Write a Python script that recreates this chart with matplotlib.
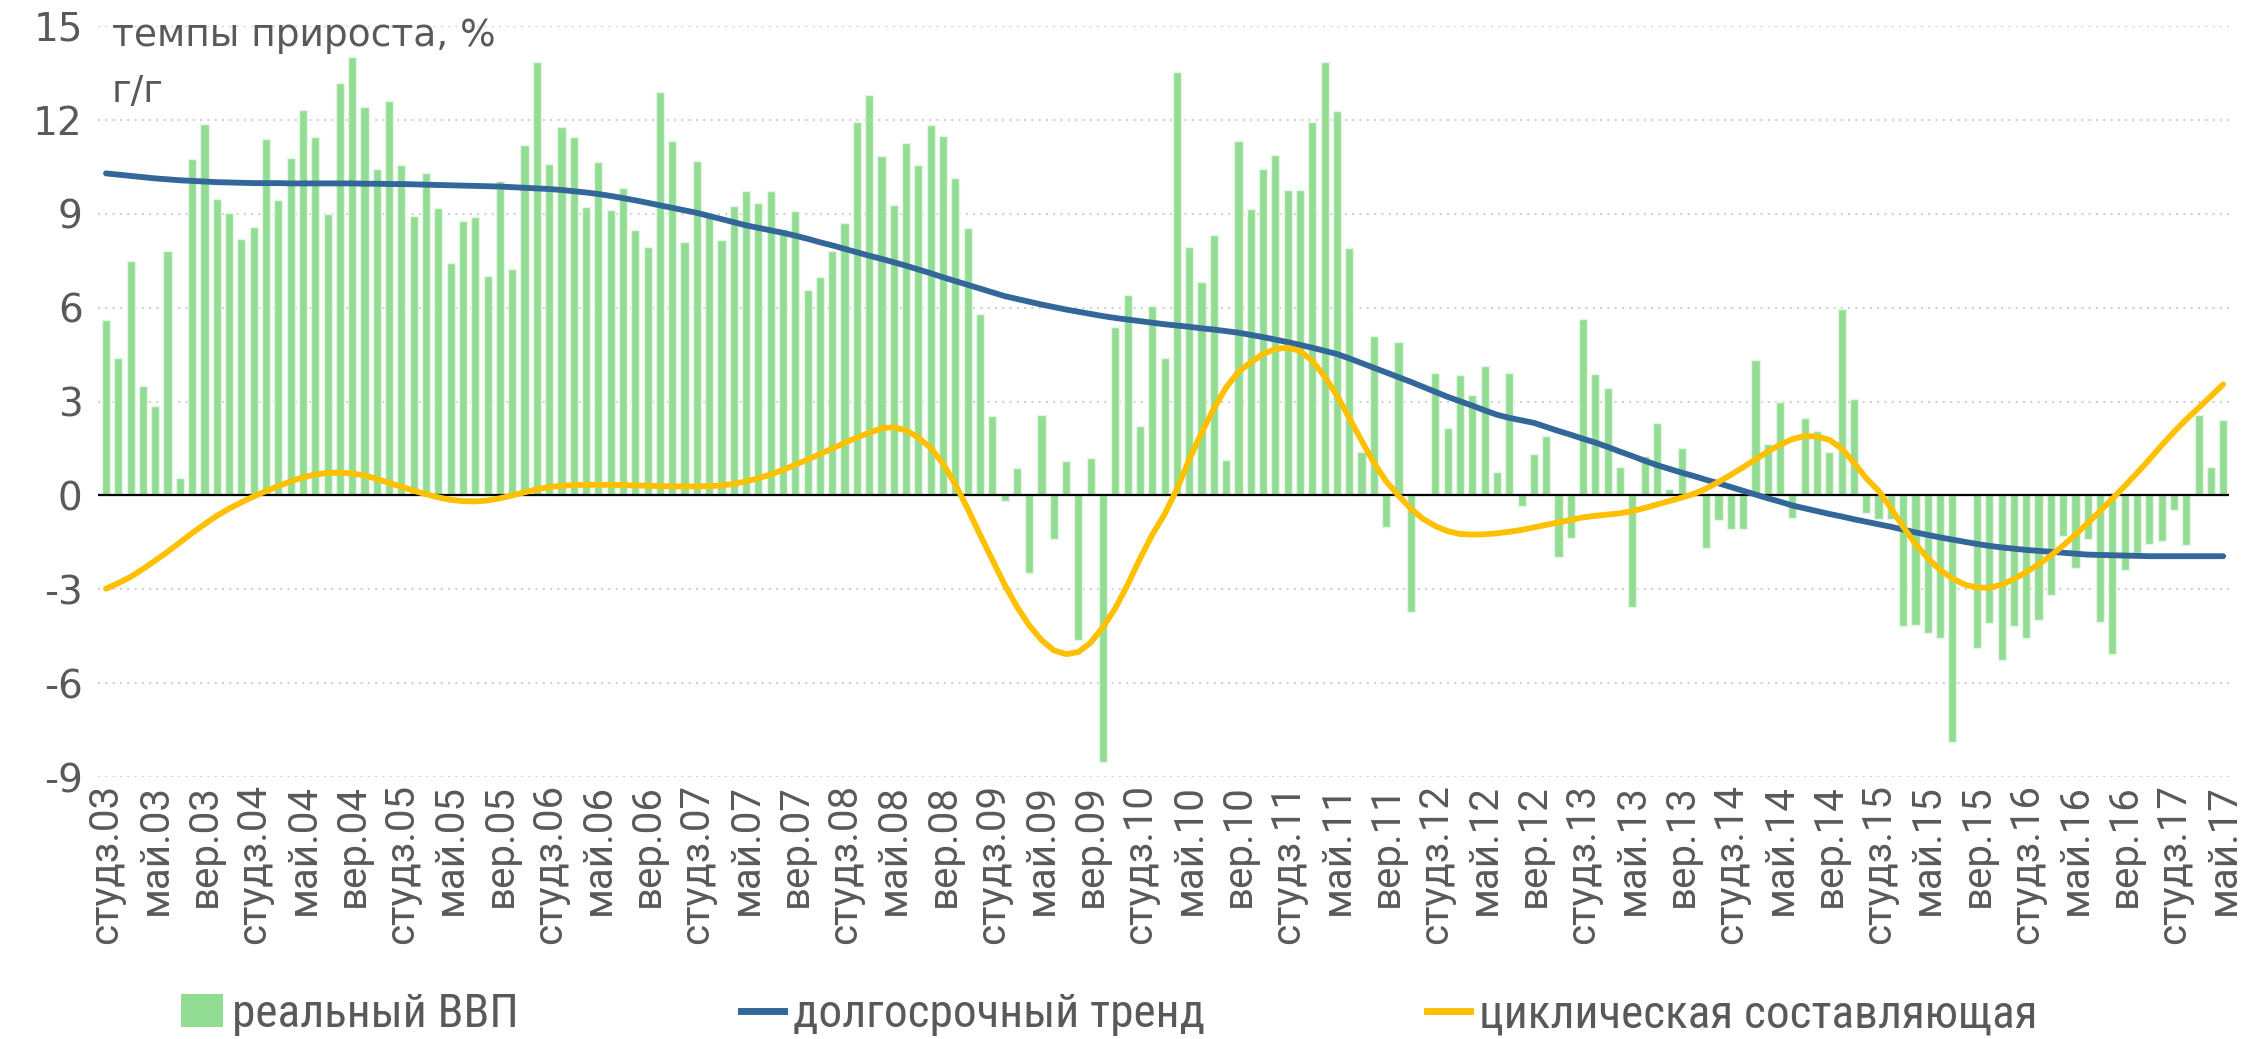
import numpy as np
import pandas as pd
import matplotlib
matplotlib.use("Agg")
from matplotlib import pyplot as plt
from matplotlib.patches import Patch
from matplotlib.lines import Line2D

plt.rcParams["axes.unicode_minus"] = False

# monthly data, Jan 2003 - May 2017
months = pd.date_range("2003-01-01", "2017-05-01", freq="MS")
month_names = {1: "студз", 5: "май", 9: "вер"}

gdp = [5.60, 4.39, 7.50, 3.50, 2.87, 7.82, 0.56, 10.76, 11.87, 9.48,
       9.03, 8.18, 8.58, 11.40, 9.44, 10.79, 12.31, 11.45, 9.00, 13.19,
       14.02, 12.40, 10.42, 12.60, 10.55, 8.94, 10.29, 9.19, 7.44, 8.76,
       8.89, 7.00, 10.05, 7.23, 11.21, 13.84, 10.58, 11.76, 11.44, 9.21,
       10.65, 9.11, 9.82, 8.47, 7.94, 12.89, 11.34, 8.10, 10.68, 8.92,
       8.15, 9.24, 9.73, 9.34, 9.74, 8.52, 9.08, 6.56, 6.98, 7.82,
       8.71, 11.94, 12.81, 10.85, 9.27, 11.27, 10.55, 11.85, 11.48, 10.13,
       8.55, 5.81, 2.53, -0.19, 0.87, -2.47, 2.56, -1.39, 1.10, -4.63,
       1.19, -8.53, 5.39, 6.42, 2.23, 6.06, 4.40, 13.52, 7.95, 6.82,
       8.32, 1.13, 11.34, 9.15, 10.42, 10.89, 9.76, 9.76, 11.94, 13.84,
       12.27, 7.92, 1.40, 5.08, -1.02, 4.90, -3.71, 0.05, 3.92, 2.15,
       3.84, 3.21, 4.13, 0.74, 3.92, -0.35, 1.34, 1.89, -1.97, -1.35,
       5.65, 3.87, 3.42, 0.90, -3.55, 1.27, 2.31, 0.21, 1.53, 0.00,
       -1.69, -0.77, -1.06, -1.06, 4.32, 1.63, 3.00, -0.73, 2.47, 2.06,
       1.40, 5.95, 3.08, -0.56, -0.76, -0.76, -4.16, -4.15, -4.39, -4.56,
       -7.89, 0.00, -4.87, -4.08, -5.27, -4.18, -4.55, -3.97, -3.19, -1.31,
       -2.32, -1.39, -4.05, -5.05, -2.37, -1.85, -1.56, -1.45, -0.45, -1.58,
       2.56, 0.90, 2.40]

trend = [10.29, 10.25, 10.21, 10.17, 10.13, 10.10, 10.07, 10.05, 10.03, 10.01,
         10.00, 9.99, 9.98, 9.98, 9.98, 9.97, 9.97, 9.97, 9.97, 9.97,
         9.97, 9.96, 9.96, 9.95, 9.95, 9.94, 9.93, 9.92, 9.91, 9.90,
         9.89, 9.88, 9.87, 9.85, 9.83, 9.81, 9.79, 9.76, 9.72, 9.68,
         9.63, 9.57, 9.50, 9.43, 9.35, 9.27, 9.19, 9.11, 9.03, 8.93,
         8.83, 8.73, 8.63, 8.55, 8.47, 8.39, 8.30, 8.20, 8.09, 7.99,
         7.88, 7.77, 7.66, 7.56, 7.45, 7.34, 7.22, 7.10, 6.97, 6.85,
         6.73, 6.61, 6.49, 6.37, 6.28, 6.19, 6.10, 6.02, 5.94, 5.87,
         5.80, 5.73, 5.67, 5.62, 5.57, 5.52, 5.47, 5.43, 5.39, 5.34,
         5.30, 5.25, 5.20, 5.13, 5.06, 4.98, 4.90, 4.81, 4.72, 4.62,
         4.52, 4.38, 4.23, 4.08, 3.93, 3.78, 3.63, 3.47, 3.31, 3.15,
         3.01, 2.87, 2.72, 2.58, 2.48, 2.40, 2.32, 2.19, 2.06, 1.94,
         1.81, 1.69, 1.55, 1.40, 1.26, 1.11, 0.97, 0.85, 0.73, 0.62,
         0.50, 0.39, 0.27, 0.15, 0.03, -0.09, -0.20, -0.32, -0.41, -0.50,
         -0.59, -0.67, -0.76, -0.84, -0.92, -1.00, -1.09, -1.18, -1.26, -1.34,
         -1.41, -1.48, -1.55, -1.61, -1.66, -1.70, -1.74, -1.77, -1.80, -1.83,
         -1.86, -1.89, -1.90, -1.91, -1.92, -1.93, -1.94, -1.94, -1.94, -1.94,
         -1.94, -1.94, -1.94]

cycle = [-2.98, -2.80, -2.60, -2.35, -2.08, -1.80, -1.50, -1.20, -0.92, -0.65,
         -0.42, -0.22, -0.03, 0.14, 0.30, 0.45, 0.58, 0.67, 0.72, 0.73,
         0.70, 0.64, 0.53, 0.40, 0.28, 0.15, 0.04, -0.06, -0.14, -0.18,
         -0.19, -0.16, -0.09, 0.00, 0.10, 0.20, 0.27, 0.31, 0.33, 0.34,
         0.34, 0.34, 0.33, 0.32, 0.31, 0.30, 0.29, 0.29, 0.29, 0.30,
         0.32, 0.37, 0.45, 0.55, 0.67, 0.82, 0.98, 1.15, 1.32, 1.50,
         1.68, 1.85, 2.00, 2.15, 2.18, 2.08, 1.85, 1.52, 1.02, 0.35,
         -0.42, -1.25, -2.05, -2.85, -3.55, -4.15, -4.62, -4.95, -5.07, -5.00,
         -4.70, -4.20, -3.60, -2.85, -2.02, -1.25, -0.60, 0.20, 1.15, 2.00,
         2.78, 3.45, 3.95, 4.25, 4.52, 4.68, 4.72, 4.62, 4.30, 3.80,
         3.20, 2.48, 1.75, 1.05, 0.45, 0.00, -0.42, -0.75, -0.98, -1.14,
         -1.23, -1.25, -1.24, -1.21, -1.16, -1.10, -1.02, -0.94, -0.86, -0.78,
         -0.70, -0.65, -0.61, -0.57, -0.50, -0.40, -0.29, -0.18, -0.07, 0.05,
         0.22, 0.43, 0.66, 0.90, 1.15, 1.40, 1.62, 1.80, 1.90, 1.88,
         1.78, 1.50, 1.05, 0.55, 0.15, -0.40, -1.00, -1.55, -2.00, -2.38,
         -2.65, -2.85, -2.94, -2.95, -2.85, -2.67, -2.45, -2.20, -1.92, -1.60,
         -1.25, -0.88, -0.50, -0.10, 0.30, 0.72, 1.15, 1.60, 2.03, 2.43,
         2.80, 3.17, 3.55]

GREEN = "#93DC93"
BLUE = "#336699"
YELLOW = "#FFC000"
GREY = "#595959"
NARROW = ["Roboto Condensed", "Liberation Sans Narrow", "Roboto", "DejaVu Sans"]

x = np.arange(len(months))
tick_idx = x[::4]
tick_labels = [f"{month_names[months[i].month]}.{months[i].strftime('%y')}" for i in tick_idx]

fig = plt.figure(figsize=(22.53, 10.39), dpi=100)
fig.set_facecolor("w")
ax = fig.add_axes([0.0435, 0.252, 0.946, 0.723])

ax.bar(x, gdp, width=0.66, color=GREEN, edgecolor="#E4F6E4", linewidth=1, zorder=2)
ax.axhline(0, color="k", lw=1.6, zorder=3)
ax.plot(x, trend, color=BLUE, lw=4.2, solid_capstyle="round", zorder=4)
ax.plot(x, cycle, color=YELLOW, lw=4.2, solid_capstyle="round", zorder=5)

ax.set_ylim(-9, 15)
ax.set_xlim(-0.65, 172.5)
ax.set_yticks(range(-9, 16, 3))
ax.yaxis.grid(True, linestyle=(0, (1, 2.5)), color="#D0D0D0", lw=1.5, zorder=0)
ax.set_axisbelow(True)
for s in ax.spines.values():
    s.set_visible(False)
ax.tick_params(axis="y", length=0, pad=11, labelsize=28, labelcolor=GREY)
ax.set_xticks(tick_idx)
ax.set_xticklabels(tick_labels, rotation=90, fontsize=29, color=GREY,
                   family=["Roboto", "DejaVu Sans"])
ax.tick_params(axis="x", length=0, pad=5)

fig.text(112 / 2253, 1 - 18 / 1039, "темпы прироста, %", fontsize=27, color=GREY, va="top")
fig.text(112 / 2253, 1 - 74 / 1039, "г/г", fontsize=27, color=GREY, va="top")

handles = [Patch(facecolor=GREEN, edgecolor="none"),
           Line2D([], [], color=BLUE, lw=5),
           Line2D([], [], color=YELLOW, lw=5)]
labels = ["реальный ВВП", "долгосрочный тренд", "циклическая составляющая"]
fig.legend(handles, labels, loc="center left", bbox_to_anchor=(138 / 2253, 0.024),
           ncol=3, frameon=False, labelcolor=GREY,
           handlelength=0.9, handletextpad=0.2, columnspacing=4.7,
           prop={"family": NARROW, "stretch": "condensed", "size": 34})

plt.savefig("out.png", dpi=100)
